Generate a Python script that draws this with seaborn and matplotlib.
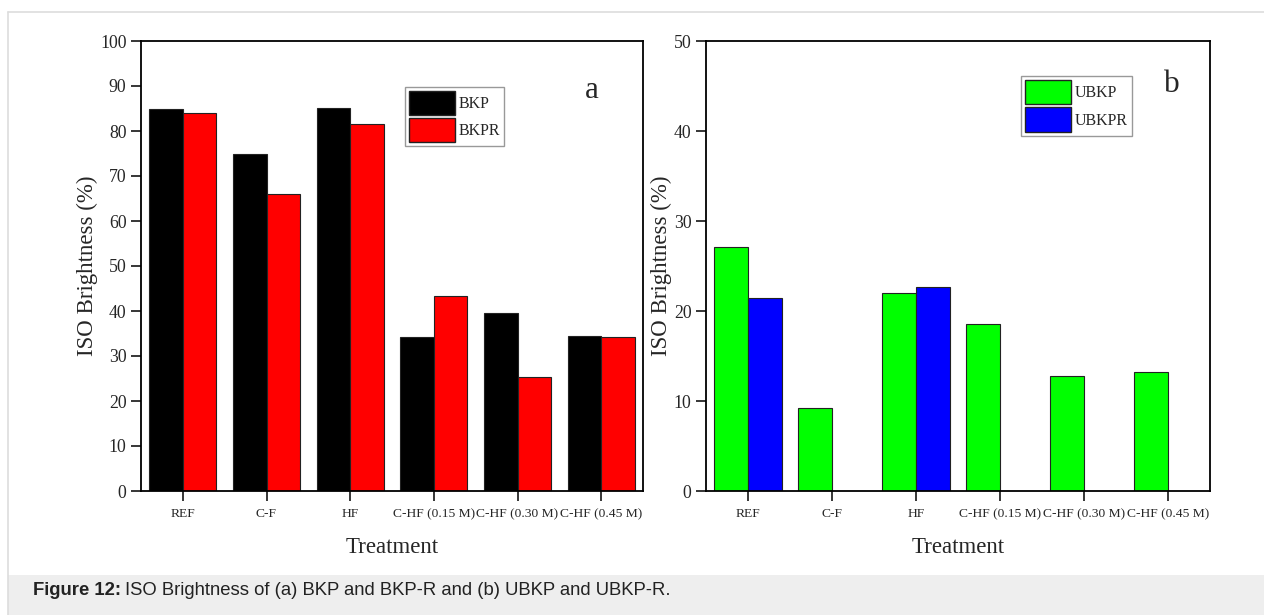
import matplotlib
matplotlib.use("Agg")
import matplotlib.pyplot as plt
import seaborn as sns
import pandas as pd
from matplotlib.patches import Rectangle, Patch
from matplotlib.lines import Line2D

categories = ["REF", "C-F", "HF", "C-HF (0.15 M)", "C-HF (0.30 M)", "C-HF (0.45 M)"]
bkp = [84.8, 74.9, 85.1, 34.2, 39.6, 34.4]
bkpr = [83.9, 66.1, 81.6, 43.3, 25.3, 34.2]
ubkp = [27.1, 9.2, 22.0, 18.6, 12.8, 13.2]
ubkpr = [21.5, 0.0, 22.7, 0.0, 0.0, 0.0]

sns.set_style("ticks")
plt.rcParams["font.family"] = ["Liberation Serif", "DejaVu Serif"]

W, H = 1264, 615
fig = plt.figure(figsize=(W / 100, H / 100), dpi=100)

# page decoration
fig.add_artist(Line2D([8 / W, 1], [1 - 12 / H, 1 - 12 / H], color="#dddddd", lw=1.2))
fig.add_artist(Line2D([8 / W, 8 / W], [1 - 12 / H, 0], color="#dddddd", lw=1.2))
fig.add_artist(Rectangle((8 / W, 0), 1 - 8 / W, 40 / H, transform=fig.transFigure,
                         facecolor="#eeeeee", edgecolor="none"))

def make_df(a, b, na, nb):
    rows = []
    for c, v in zip(categories, a):
        rows.append({"Treatment": c, "Sample": na, "Value": v})
    for c, v in zip(categories, b):
        rows.append({"Treatment": c, "Sample": nb, "Value": v})
    return pd.DataFrame(rows)

panels = [
    dict(rect=(141, 502), a=bkp, b=bkpr, names=("BKP", "BKPR"), colors=("#000000", "#ff0000"),
         ymax=100, step=10, leg=(0.526, 0.898), letter="a", lpos=(0.898, 0.889)),
    dict(rect=(706, 504), a=ubkp, b=ubkpr, names=("UBKP", "UBKPR"), colors=("#00ff00", "#0000ff"),
         ymax=50, step=10, leg=(0.625, 0.922), letter="b", lpos=(0.925, 0.904)),
]

for p in panels:
    x0, w = p["rect"]
    ax = fig.add_axes([x0 / W, (615 - 491) / H, w / W, 450 / H])
    df = make_df(p["a"], p["b"], *p["names"])
    sns.barplot(data=df, x="Treatment", y="Value", hue="Sample", order=categories,
                hue_order=list(p["names"]), palette=list(p["colors"]), width=0.8,
                edgecolor="#222222", linewidth=0.8, saturation=1, ax=ax, legend=False,
                errorbar=None)
    ax.set_xlim(-0.5, 5.5)
    ax.set_ylim(0, p["ymax"])
    ax.set_yticks(range(0, p["ymax"] + 1, p["step"]))
    ax.tick_params(axis="y", direction="out", length=7, width=1.3, pad=3.5, labelsize=12.8)
    ax.tick_params(axis="x", direction="out", length=7, width=1.3, pad=5.5, labelsize=9.7)
    for s in ax.spines.values():
        s.set_visible(True)
        s.set_linewidth(1.3)
        s.set_color("black")
    ax.set_xlabel("Treatment", fontsize=16.5, labelpad=12)
    ax.set_ylabel("ISO Brightness (%)", fontsize=16.5, labelpad=1.5)
    handles = [Patch(facecolor=c, edgecolor="#222222", linewidth=1.0) for c in p["colors"]]
    leg = ax.legend(handles, list(p["names"]), loc="upper left", bbox_to_anchor=p["leg"],
                    borderaxespad=0, fancybox=False, framealpha=1, edgecolor="#999999",
                    fontsize=11.5, handlelength=2.9, handleheight=1.95, handletextpad=0.2,
                    labelspacing=0.2, borderpad=0.25)
    leg.get_frame().set_linewidth(1.0)
    ax.text(p["lpos"][0], p["lpos"][1], p["letter"], transform=ax.transAxes,
            fontsize=22.5, ha="center", va="center")

# caption
cap_font = ["Liberation Sans", "DejaVu Sans"]
t1 = fig.text(33 / W, 20 / H, "Figure 12:", fontsize=13.3, fontweight="bold",
              family=cap_font, va="baseline", color="#222222")
fig.canvas.draw()
bb = t1.get_window_extent()
fig.text((bb.x1 + 4) / W, 20 / H, "ISO Brightness of (a) BKP and BKP-R and (b) UBKP and UBKP-R.",
         fontsize=13.3, family=cap_font, va="baseline", color="#222222")

fig.savefig("out.png", dpi=100)
